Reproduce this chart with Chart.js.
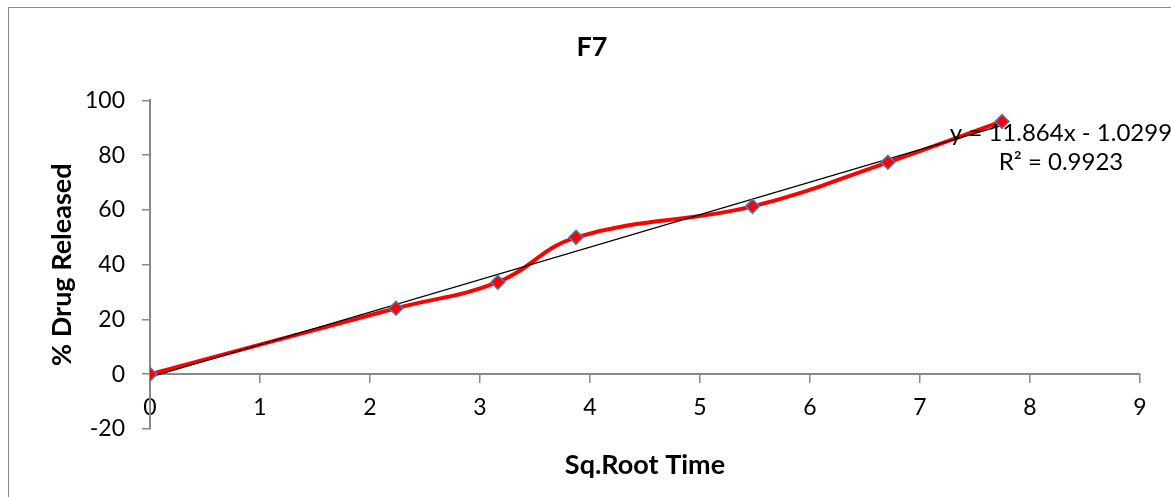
<!DOCTYPE html>
<html>
<head>
<meta charset="utf-8">
<title>F7</title>
<script src="https://cdn.jsdelivr.net/npm/chart.js@4.4.1/dist/chart.umd.min.js"></script>
<style>
  html, body { margin: 0; padding: 0; background: #fff; overflow: hidden; }
  #wrap { position: relative; width: 1171px; height: 497px; overflow: hidden; }
  #frame { position: absolute; left: 8px; top: 7px; width: 1200px; height: 600px; border: 1px solid #8c8c8c; box-sizing: border-box; }
  #chartF7 { position: absolute; left: 0; top: 0; }
</style>
</head>
<body>
<div id="wrap">
  <div id="frame"></div>
  <canvas id="chartF7" width="1171" height="497"></canvas>
</div>
<script>
// dados
const sqrtTime = [0, 2.236, 3.162, 3.873, 5.477, 6.708, 7.746];
const drugReleased = [0, 24.1, 33.6, 50.0, 61.3, 77.4, 92.3];

// linha de tendencia (Excel)
const trendSlope = 11.864;
const trendIntercept = -1.0299;
const rSquared = 0.9923;

const xMin = 0, xMax = 9, xStep = 1;
const yMin = -20, yMax = 100, yStep = 20;

const fontFamily = 'Lato, "Open Sans", sans-serif';
const axisGray = '#898989';

const points = sqrtTime.map((x, i) => ({ x: x, y: drugReleased[i] }));
const lastX = sqrtTime[sqrtTime.length - 1];
const trendPoints = [
  { x: sqrtTime[0], y: trendSlope * sqrtTime[0] + trendIntercept },
  { x: lastX, y: trendSlope * lastX + trendIntercept }
];

const trendLabel = {
  id: 'trendLabel',
  afterDatasetsDraw(chart) {
    const ctx = chart.ctx;
    const area = chart.chartArea;
    const cx = area.right - 79;
    ctx.save();
    ctx.fillStyle = '#000';
    ctx.font = '24px ' + fontFamily;
    ctx.textAlign = 'center';
    ctx.textBaseline = 'middle';
    ctx.fillText('y = ' + trendSlope + 'x - ' + Math.abs(trendIntercept), cx, area.top + 33);
    ctx.fillText('R\u00b2 = ' + rSquared, cx, area.top + 62);
    ctx.restore();
  }
};

const chartF7 = document.getElementById('chartF7');

new Chart(chartF7, {
  type: 'scatter',
  data: {
    datasets: [{
      label: 'pontos',
      data: points,
      showLine: false,
      pointStyle: 'rectRot',
      pointRadius: 7,
      backgroundColor: '#ff0000',
      borderColor: '#4a7ebb',
      borderWidth: 1.5
    }, {
      label: 'tendencia',
      data: trendPoints,
      showLine: true,
      borderColor: '#000',
      borderWidth: 1.2,
      pointRadius: 0
    }, {
      label: 'F7',
      data: points,
      showLine: true,
      borderColor: '#ff0000',
      borderWidth: 4,
      tension: 0.4,
      pointRadius: 0
    }]
  },
  options: {
    responsive: false,
    animation: false,
    layout: { padding: { top: 0, left: 44, right: 31, bottom: 68 } },
    plugins: {
      legend: { display: false },
      tooltip: { enabled: false },
      title: {
        display: true,
        text: 'F7',
        color: '#000',
        font: { family: fontFamily, size: 27, weight: 'bold' },
        padding: { top: 31, bottom: 37 }
      }
    },
    scales: {
      x: {
        type: 'linear',
        position: { y: 0 },
        min: xMin,
        max: xMax,
        ticks: { stepSize: xStep, color: '#000', font: { family: fontFamily, size: 23 }, padding: 12 },
        grid: { drawOnChartArea: false, tickLength: 8, color: axisGray, lineWidth: 1.5 },
        border: { color: axisGray, width: 2 },
        title: {
          display: true,
          text: 'Sq.Root Time',
          color: '#000',
          font: { family: fontFamily, size: 27, weight: 'bold' },
          padding: { top: 15, bottom: 0 }
        }
      },
      y: {
        min: yMin,
        max: yMax,
        ticks: { stepSize: yStep, color: '#000', font: { family: fontFamily, size: 23 }, padding: 17 },
        grid: { drawOnChartArea: false, tickLength: 8, color: axisGray, lineWidth: 1.5 },
        border: { color: axisGray, width: 2 },
        title: {
          display: true,
          text: '% Drug Released',
          color: '#000',
          font: { family: fontFamily, size: 27, weight: 'bold' },
          padding: { top: 2, bottom: 0 }
        },
        afterFit(scale) { scale.width = 106; }
      }
    }
  },
  plugins: [trendLabel]
});
</script>
</body>
</html>
